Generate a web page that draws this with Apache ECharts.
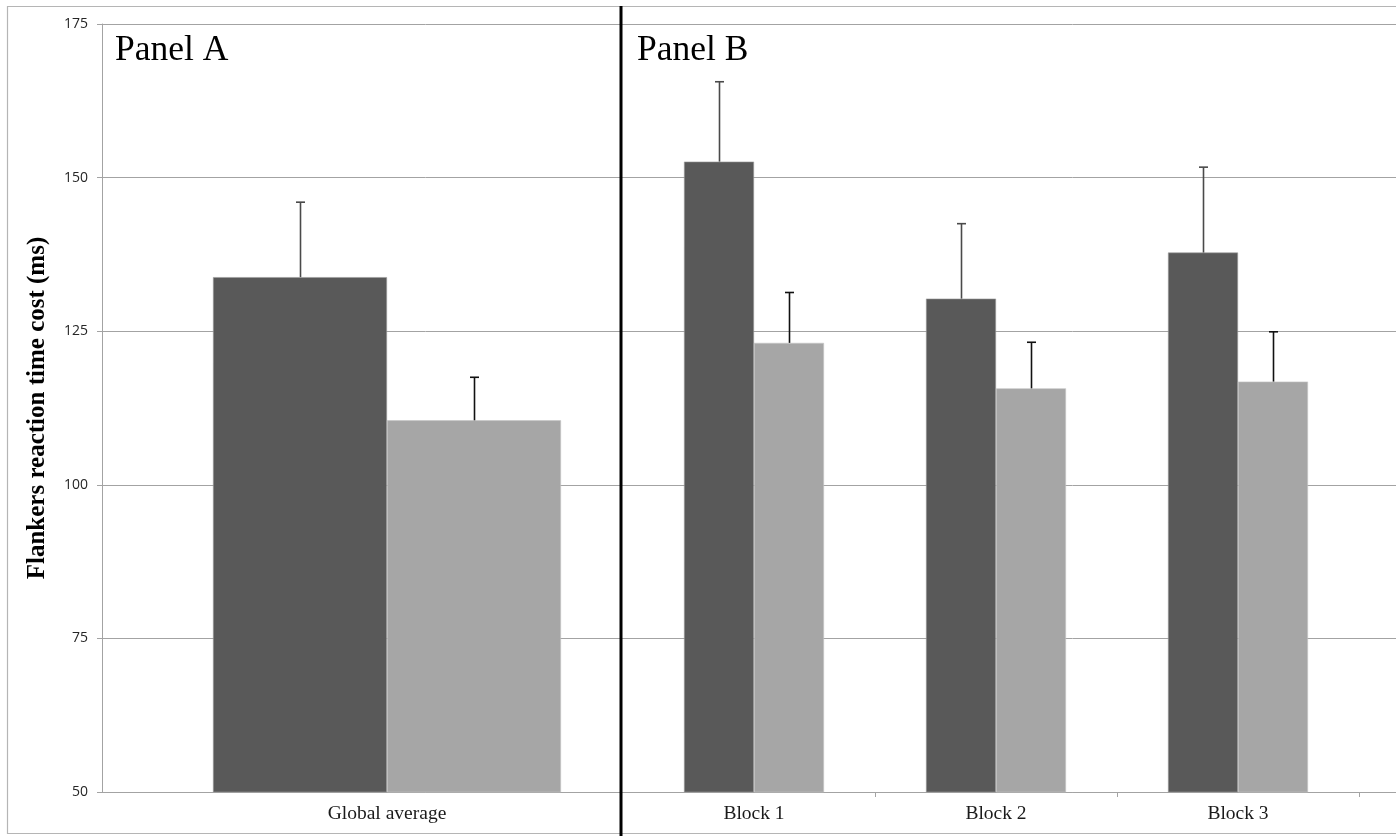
<!DOCTYPE html>
<html>
<head>
<meta charset="utf-8">
<style>
  html, body { margin: 0; padding: 0; background: #ffffff; }
  #chart { width: 1396px; height: 836px; }
</style>
<script src="https://cdn.jsdelivr.net/npm/echarts@6/dist/echarts.min.js"></script>
</head>
<body>
<div id="chart"></div>
<script>
// Flanker reaction-time cost (ms): dark = first group, light = second group
const categoriesA = ['Global average'];
const categoriesB = ['Block 1', 'Block 2', 'Block 3'];

const darkA = [133.8];
const darkErrA = [12.2];
const lightA = [110.5];
const lightErrA = [7.0];

const darkB = [152.6, 130.3, 137.8];
const darkErrB = [13.0, 12.2, 13.9];
const lightB = [123.1, 115.7, 116.8];
const lightErrB = [8.2, 7.5, 8.1];

const yTicks = [50, 75, 100, 125, 150, 175];
const panelTitles = ['Panel A', 'Panel B'];
const yTitle = 'Flankers reaction time cost (ms)';

const DARK = '#595959';
const LIGHT = '#a6a6a6';
const GRID_LINE = '#a3a3a3';
const BAR_W_A = 174;
const BAR_W_B = 70;

const yMin = yTicks[0];
const yMax = yTicks[yTicks.length - 1];
const yStep = yTicks[1] - yTicks[0];

function errorBar(offset, color) {
  return function (params, api) {
    const i = api.value(0);
    const v = api.value(1);
    const e = api.value(2);
    const base = api.coord([i, v]);
    const top = api.coord([i, v + e]);
    const x = Math.round(base[0] + offset) + 0.5;
    const style = { stroke: color, lineWidth: 1.6 };
    return {
      type: 'group',
      children: [
        { type: 'line', shape: { x1: x, y1: base[1], x2: x, y2: top[1] }, style: style },
        { type: 'line', shape: { x1: x - 4.5, y1: top[1], x2: x + 4.5, y2: top[1] }, style: style }
      ]
    };
  };
}

const hiddenY = (idx) => ({
  type: 'value', gridIndex: idx, min: yMin, max: yMax, interval: yStep, show: false
});

const serifLabel = { fontFamily: 'Liberation Serif', fontSize: 19.5, color: '#1a1a1a' };

const chart = echarts.init(document.getElementById('chart'), null, { renderer: 'canvas' });
chart.setOption({
  backgroundColor: '#ffffff',
  animation: false,
  grid: [
    { left: 102, top: 24, right: 0, bottom: 44 },
    { left: 102, top: 24, width: 570, bottom: 44 },
    { left: 633, top: 24, width: 726, bottom: 44 }
  ],
  xAxis: [
    {
      type: 'value', gridIndex: 0, min: 0, max: 1,
      axisLine: { show: true, lineStyle: { color: GRID_LINE, width: 1 } },
      axisTick: { show: false }, axisLabel: { show: false }, splitLine: { show: false }
    },
    {
      type: 'category', gridIndex: 1, data: categoriesA,
      axisLine: { show: false }, axisTick: { show: false },
      axisLabel: Object.assign({ margin: 12 }, serifLabel)
    },
    {
      type: 'category', gridIndex: 2, data: categoriesB,
      axisLine: { show: false },
      axisTick: {
        show: true, length: 5,
        interval: function (index) { return index !== 0; },
        lineStyle: { color: GRID_LINE, width: 1 }
      },
      axisLabel: Object.assign({ margin: 12 }, serifLabel)
    }
  ],
  yAxis: [
    {
      type: 'value', gridIndex: 0, min: yMin, max: yMax, interval: yStep,
      name: yTitle, nameLocation: 'middle', nameGap: 52,
      nameTextStyle: { fontFamily: 'Liberation Serif', fontWeight: 'bold', fontSize: 25, color: '#000' },
      axisLine: { show: true, lineStyle: { color: GRID_LINE, width: 1 } },
      axisTick: { show: true, length: 5, lineStyle: { color: GRID_LINE } },
      axisLabel: { fontFamily: 'Open Sans', fontSize: 14, color: '#262626', margin: 14 },
      splitLine: { show: true, lineStyle: { color: GRID_LINE, width: 1 } }
    },
    hiddenY(1),
    hiddenY(2)
  ],
  series: [
    {
      type: 'bar', xAxisIndex: 1, yAxisIndex: 1, data: darkA,
      barWidth: BAR_W_A, barGap: '0%', itemStyle: { color: DARK, borderColor: '#9a9a9a', borderWidth: 0.6 }
    },
    {
      type: 'bar', xAxisIndex: 1, yAxisIndex: 1, data: lightA,
      barWidth: BAR_W_A, barGap: '0%', itemStyle: { color: LIGHT, borderColor: '#c4c4c4', borderWidth: 0.6 }
    },
    {
      type: 'custom', xAxisIndex: 1, yAxisIndex: 1, z: 5,
      renderItem: errorBar(-BAR_W_A / 2, '#4a4a4a'),
      encode: { x: 0, y: 1 },
      data: darkA.map((v, i) => [i, v, darkErrA[i]])
    },
    {
      type: 'custom', xAxisIndex: 1, yAxisIndex: 1, z: 5,
      renderItem: errorBar(BAR_W_A / 2, '#111111'),
      encode: { x: 0, y: 1 },
      data: lightA.map((v, i) => [i, v, lightErrA[i]])
    },
    {
      type: 'bar', xAxisIndex: 2, yAxisIndex: 2, data: darkB,
      barWidth: BAR_W_B, barGap: '0%', itemStyle: { color: DARK, borderColor: '#9a9a9a', borderWidth: 0.6 }
    },
    {
      type: 'bar', xAxisIndex: 2, yAxisIndex: 2, data: lightB,
      barWidth: BAR_W_B, barGap: '0%', itemStyle: { color: LIGHT, borderColor: '#c4c4c4', borderWidth: 0.6 }
    },
    {
      type: 'custom', xAxisIndex: 2, yAxisIndex: 2, z: 5,
      renderItem: errorBar(-BAR_W_B / 2, '#4a4a4a'),
      encode: { x: 0, y: 1 },
      data: darkB.map((v, i) => [i, v, darkErrB[i]])
    },
    {
      type: 'custom', xAxisIndex: 2, yAxisIndex: 2, z: 5,
      renderItem: errorBar(BAR_W_B / 2, '#111111'),
      encode: { x: 0, y: 1 },
      data: lightB.map((v, i) => [i, v, lightErrB[i]])
    }
  ],
  graphic: [
    {
      type: 'rect', z: 0, silent: true,
      shape: { x: 7.5, y: 6.5, width: 1400, height: 827 },
      style: { fill: 'none', stroke: '#b5b5b5', lineWidth: 1.2 }
    },
    {
      type: 'line', z: 100, silent: true,
      shape: { x1: 621, y1: 6, x2: 621, y2: 836 },
      style: { stroke: '#000', lineWidth: 3 }
    },
    {
      type: 'text', z: 100, silent: true, x: 115, y: 51,
      style: { text: panelTitles[0], font: '35.5px "Liberation Serif"', fill: '#000', verticalAlign: 'middle' }
    },
    {
      type: 'text', z: 100, silent: true, x: 637, y: 51,
      style: { text: panelTitles[1], font: '35.5px "Liberation Serif"', fill: '#000', verticalAlign: 'middle' }
    }
  ]
});
</script>
</body>
</html>
